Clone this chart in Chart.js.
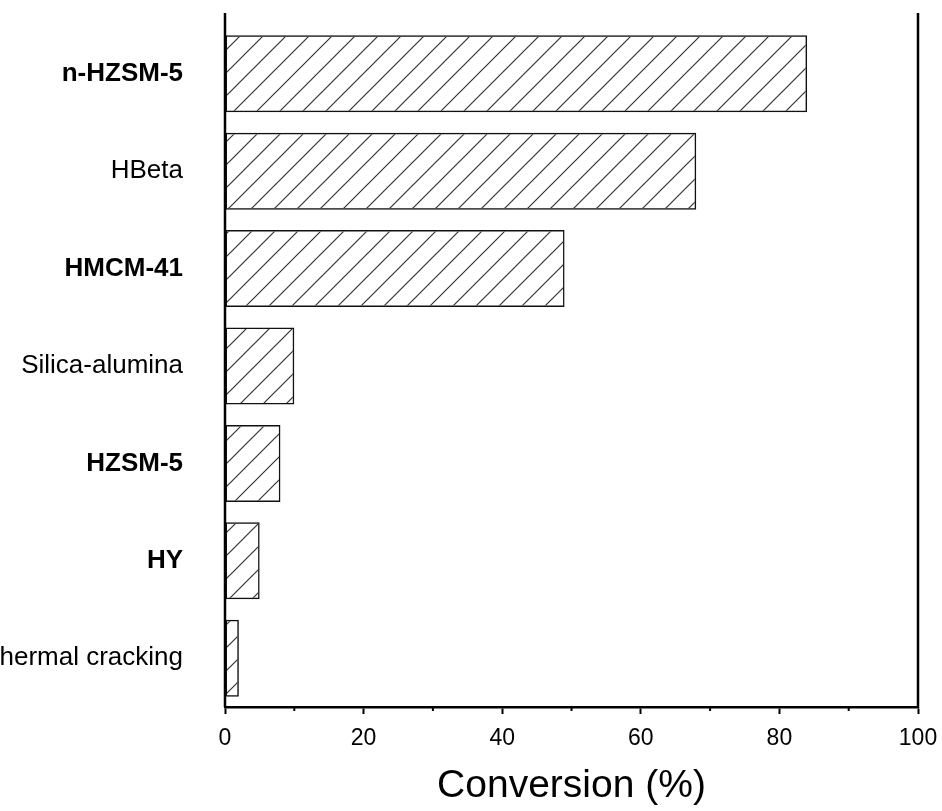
<!DOCTYPE html>
<html>
<head>
<meta charset="utf-8">
<script src="https://cdn.jsdelivr.net/npm/chart.js@4/dist/chart.umd.min.js"></script>
<style>
  body { margin: 0; background: #fff; }
  #wrap { width: 942px; height: 811px; }
</style>
</head>
<body>
<div id="wrap"><canvas id="conv"></canvas></div>
<script>
const catalysts = ['n-HZSM-5', 'HBeta', 'HMCM-41', 'Silica-alumina', 'HZSM-5', 'HY', 'Thermal cracking'];
const conversion = [84, 68, 49, 10, 8, 5, 2];
const boldLabels = [true, false, true, false, true, true, false];
const minorTicks = [10, 30, 50, 70, 90];

const FONT = '"Liberation Sans", Arial, Helvetica, sans-serif';

// diagonal "/" hatch for the bars
function hatch() {
    const s = 23;
    const c = document.createElement('canvas');
    c.width = s;
    c.height = s;
    const g = c.getContext('2d');
    g.strokeStyle = '#333';
    g.lineWidth = 1.2;
    g.beginPath();
    g.moveTo(0, s); g.lineTo(s, 0);
    g.moveTo(-2, 2); g.lineTo(2, -2);
    g.moveTo(s - 2, s + 2); g.lineTo(s + 2, s - 2);
    g.stroke();
    return g.createPattern(c, 'repeat');
}

// left/right frame lines (they start a little above the first bar) + minor ticks
const frame = {
    id: 'frame',
    afterDraw(chart) {
        const { ctx, chartArea } = chart;
        const x = chart.scales.x;
        ctx.save();
        ctx.strokeStyle = '#000';
        ctx.lineWidth = 2.5;
        ctx.beginPath();
        ctx.moveTo(chartArea.left, chartArea.top - 12);
        ctx.lineTo(chartArea.left, chartArea.bottom);
        ctx.moveTo(chartArea.right, chartArea.top - 12);
        ctx.lineTo(chartArea.right, chartArea.bottom + 1);
        ctx.stroke();
        ctx.lineWidth = 2;
        ctx.beginPath();
        minorTicks.forEach(v => {
            const px = x.getPixelForValue(v);
            ctx.moveTo(px, chartArea.bottom);
            ctx.lineTo(px, chartArea.bottom + 4);
        });
        ctx.stroke();
        ctx.restore();
    }
};

new Chart(document.getElementById('conv'), {
    type: 'bar',
    data: {
        labels: catalysts,
        datasets: [{
            data: conversion,
            backgroundColor: hatch(),
            borderColor: '#111',
            borderWidth: 1.5,
            borderSkipped: false,
            barPercentage: 0.79,
            categoryPercentage: 1
        }]
    },
    options: {
        indexAxis: 'y',
        responsive: true,
        maintainAspectRatio: false,
        animation: false,
        layout: { padding: { top: 25, right: 24, bottom: 0, left: 0 } },
        plugins: {
            legend: { display: false },
            tooltip: { enabled: false }
        },
        scales: {
            x: {
                min: 0,
                max: 100,
                afterFit(scale) {
                    scale.paddingLeft = 0;
                    scale.paddingRight = 0;
                },
                ticks: {
                    stepSize: 20,
                    padding: 13,
                    color: '#000',
                    font: { family: FONT, size: 23, lineHeight: 1 }
                },
                grid: {
                    drawOnChartArea: false,
                    tickLength: 7,
                    tickWidth: 2,
                    tickColor: '#000'
                },
                border: { color: '#000', width: 2.5 },
                title: {
                    display: true,
                    text: 'Conversion (%)',
                    color: '#000',
                    font: { family: FONT, size: 39, lineHeight: 1 },
                    padding: { top: 4, bottom: 5 }
                }
            },
            y: {
                afterFit(scale) {
                    scale.width = 225;
                    scale.paddingTop = 0;
                    scale.paddingBottom = 0;
                },
                ticks: {
                    padding: 42,
                    color: '#000',
                    font: ctx => ({
                        family: FONT,
                        size: 26,
                        weight: boldLabels[ctx.index] ? 'bold' : 'normal'
                    })
                },
                grid: { display: false, drawTicks: false },
                border: { display: false }
            }
        }
    },
    plugins: [frame]
});
</script>
</body>
</html>
